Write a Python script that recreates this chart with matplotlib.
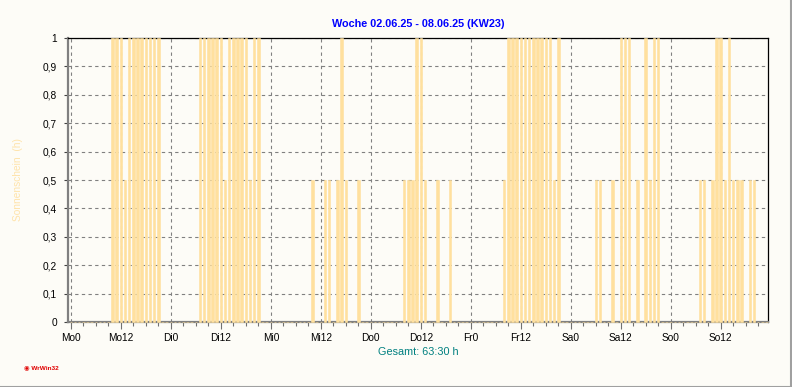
import matplotlib
matplotlib.use("Agg")
import matplotlib.pyplot as plt
from matplotlib.lines import Line2D
import numpy as np

plt.rcParams['font.family'] = ['Liberation Sans', 'DejaVu Sans']

# hours since Monday 00:00 with sunshine, and the sunshine per hour (h)
sun_hours = [10, 11, 12, 13, 14, 15, 16, 17, 18, 19, 20, 21,
             31, 32, 33, 34, 35, 36, 37, 38, 39, 40, 41, 42, 43, 44, 45,
             58, 61, 62, 64, 65, 66, 69,
             80, 81, 82, 83, 84, 85, 88, 91,
             104, 105, 106, 107, 108, 109, 110, 111, 112, 113, 114, 115, 116, 117,
             126, 127, 130, 132, 133, 134, 136, 138, 139, 140, 141,
             151, 152, 154, 155, 156, 157, 158, 159, 160, 161, 163, 164]
sun_values = [1, 1, 1, 0.5, 1, 1, 1, 1, 1, 1, 1, 1,
              1, 1, 1, 1, 1, 1, 0.5, 1, 1, 1, 1, 1, 0.5, 1, 1,
              0.5, 0.5, 0.5, 0.5, 1, 0.5, 0.5,
              0.5, 0.5, 0.5, 1, 1, 0.5, 0.5, 0.5,
              0.5, 1, 1, 1, 1, 1, 1, 1, 1, 1, 1, 1, 0.5, 1,
              0.5, 0.5, 0.5, 1, 1, 1, 0.5, 1, 0.5, 1, 1,
              0.5, 0.5, 0.5, 1, 1, 0.5, 1, 0.5, 0.5, 0.5, 0.5, 0.5]

day_names = ['Mo', 'Di', 'Mi', 'Do', 'Fr', 'Sa', 'So']
x_labels = [d + h for d in day_names for h in ('0', '12')]
y_ticks = [0, 0.1, 0.2, 0.3, 0.4, 0.5, 0.6, 0.7, 0.8, 0.9, 1]
y_labels = ['0', '0,1', '0,2', '0,3', '0,4', '0,5', '0,6', '0,7', '0,8', '0,9', '1']
title = 'Woche 02.06.25 - 08.06.25 (KW23)'
total_text = 'Gesamt: 63:30 h'

bg = '#FDFCF7'
bar_col = '#FFE09E'

hours = np.arange(168)
week = np.zeros(168)
week[sun_hours] = sun_values

fig = plt.figure(figsize=(7.92, 3.87), dpi=100, facecolor=bg)
ax = fig.add_axes([68 / 792, 65 / 387, 700 / 792, 284 / 387])
ax.set_facecolor(bg)

ax.bar(hours, week, width=0.6, color=bar_col, edgecolor=bar_col,
       linewidth=0.4, zorder=3, clip_on=False)

ax.set_xlim(-0.7, 167.35)
ax.set_ylim(0, 1)
ax.set_xticks(np.arange(0, 168, 12))
ax.set_xticklabels(x_labels)
ax.set_xticks(np.arange(0, 168, 3), minor=True)
ax.set_yticks(y_ticks)
ax.set_yticklabels(y_labels)

ax.set_axisbelow(True)
ax.grid(True, which='major', color='#808080', linestyle=(0, (3, 3)), linewidth=0.8)

ax.tick_params(axis='x', which='major', length=5, width=0.8, color='#707070',
               labelsize=7.3, pad=3)
ax.tick_params(axis='x', which='minor', length=3, width=0.8, color='#707070')
ax.tick_params(axis='y', length=3, width=0.8, color='#404040', labelsize=7.3, pad=5)

for s in ('left', 'bottom'):
    ax.spines[s].set_color('#808080')
    ax.spines[s].set_linewidth(1.6)
for s in ('top', 'right'):
    ax.spines[s].set_color('black')
    ax.spines[s].set_linewidth(0.9)

ax.set_ylabel('Sonnenschein  (h)', color='#FFE3AA', fontsize=7.3, labelpad=14)

fig.text(418 / 792, 1 - 24 / 387, title, color='#0000FF', fontsize=7.8,
         fontweight='bold', ha='center', va='center')
fig.text(418 / 792, 1 - 352 / 387, total_text, color='#008080', fontsize=7.8,
         ha='center', va='center')
fig.text(24 / 792, 1 - 368 / 387, '\u25c9 WrWin32', color='#E00000', fontsize=4.6,
         ha='left', va='center', fontweight='bold')

# frame of the picture
fig.add_artist(Line2D([0, 1], [0.5 / 387, 0.5 / 387], color='#A0A0A0', lw=1.5,
                      transform=fig.transFigure))
fig.add_artist(Line2D([1 - 1.5 / 792, 1 - 1.5 / 792], [0, 1], color='#A0A0A0', lw=1.5,
                      transform=fig.transFigure))

fig.savefig('out.png', dpi=100, facecolor=bg)
